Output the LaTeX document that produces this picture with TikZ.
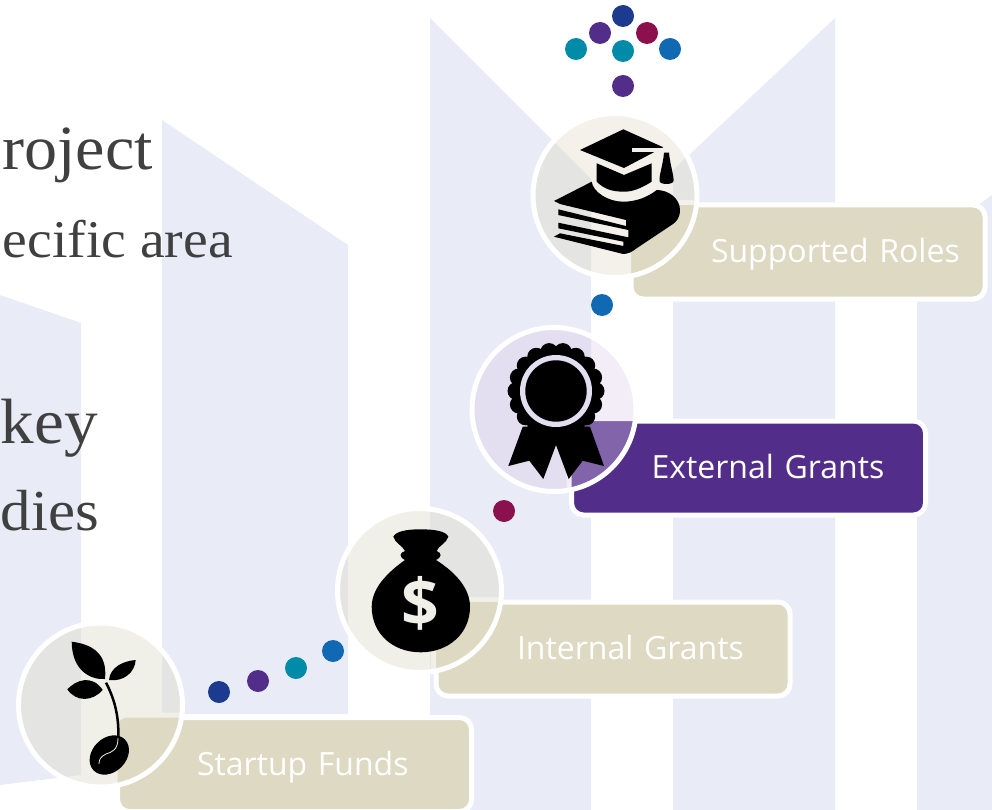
\documentclass[tikz,border=0pt]{standalone}
\usepackage{fontspec}
\setmainfont[FakeStretch=1.05]{Liberation Serif}
\newfontfamily\labelfont{Open Sans}
\usetikzlibrary{calc, shapes}

\definecolor{paleblue}{HTML}{E9ECF6}
\definecolor{boxtan}{HTML}{DDD9C3}
\definecolor{grape}{HTML}{522D8A}
\definecolor{navy}{HTML}{1C3A8E}
\definecolor{teal}{HTML}{008BA8}
\definecolor{azure}{HTML}{1269B3}
\definecolor{crimson}{HTML}{8A104E}
\definecolor{slate}{HTML}{404040}
\definecolor{paper}{HTML}{F1F0E8}
\definecolor{lilac}{HTML}{E3DFF1}

% the pale letter shapes behind everything
\newcommand{\backshapes}{
  \fill (0,295) -- (81,323) -- (81,775) -- (0,785) -- cycle;
  \fill (162,120) -- (348,245) -- (348,714) -- (162,714) -- cycle;
  \fill (430,18) -- (591,179) -- (591,810) -- (430,810) -- cycle;
  \fill (835,18) -- (673,170) -- (673,810) -- (835,810) -- cycle;
  \fill (992,195) -- (917,250) -- (917,810) -- (992,810) -- cycle;
}

\begin{document}
\begin{tikzpicture}[
    x = 1pt, y = -1pt,
    dot/.style = {circle, inner sep = 0pt, minimum size = 22pt},
    headtext/.style = {anchor = base east, inner sep = 0pt, text = slate},
    stepbox/.style = {draw = white, line width = 5pt, rounded corners = 12pt, inner sep = 0pt,
      minimum height = 94pt, text width = 354pt, text = white, align = left,
      text height = 26pt, text depth = 5pt, font = \labelfont\fontsize{32}{38}\selectfont},
    ring/.style = {circle, draw = white, line width = 5pt, inner sep = 0pt, minimum size = 164pt},
    icon/.style = {fill = black}
  ]
  \useasboundingbox (0,0) rectangle (992,810);
  \clip (0,0) rectangle (992,810);
  \begin{scope}[fill = paleblue]
    \backshapes
  \end{scope}

  % Headings
  \node[headtext, font = \fontsize{63}{70}\selectfont] (project) at (153,170) {roject};
  \node[headtext, font = \fontsize{53}{60}\selectfont] (area) at (233,258) {ecific area};
  \node[headtext, font = \fontsize{64}{70}\selectfont] (key) at (98,443) {key};
  \node[headtext, font = \fontsize{58}{60}\selectfont] (dies) at (99,530) {dies};

  % Boxes
  \node[stepbox, fill = boxtan] (startup) at (294.5,764.5) {\hspace*{79.5pt}Startup Funds};
  \node[stepbox, fill = boxtan] (internal) at (613,649) {\hspace*{81pt}Internal Grants};
  \node[stepbox, fill = grape] (external) at (748.5,468) {\hspace*{80pt}External Grants};
  \node[stepbox, fill = boxtan] (supported) at (808,252) {\hspace*{80pt}Supported Roles};

  % Tinted discs
  \foreach \cx/\cy/\boxname/\basecol/\shapecol/\boxcol in {
      100.5/705/startup/F1F0E8/E4E4E2/DDD9C3,
      419.5/590.5/internal/F1F0E8/E4E4E2/DDD9C3,
      554/409.5/external/F2EDF7/E3DFF1/8264AB,
      615/195.5/supported/F3F1EA/E4E4E2/DDD9C3} {
    \definecolor{basetint}{HTML}{\basecol}
    \definecolor{shapetint}{HTML}{\shapecol}
    \definecolor{boxtint}{HTML}{\boxcol}
    \begin{scope}
      \clip (\cx,\cy) circle (82);
      \fill[basetint] (\cx,\cy) circle (82);
      \begin{scope}[fill = shapetint]
        \backshapes
      \end{scope}
      \draw[basetint, fill = boxtint, line width = 5pt, rounded corners = 12pt]
        (\boxname.south west) rectangle (\boxname.north east);
    \end{scope}
  }
  \node[ring] (seedring) at (100.5,705) {};
  \node[ring] (bagring) at (419.5,590.5) {};
  \node[ring] (awardring) at (554,409.5) {};
  \node[ring] (capring) at (615,195.5) {};

  % Sprout
  \fill[icon] (71.7,641.7) .. controls (90,644) and (108,652) .. (105,679)
    .. controls (92,680) and (72,672) .. cycle;
  \fill[icon] (109,680) .. controls (110,668) and (122,661) .. (135.7,660)
    .. controls (135,672) and (124,682) .. cycle;
  \fill[icon] (67.3,689.3) .. controls (76,680) and (92,674) .. (102.7,690)
    .. controls (92,702) and (76,702) .. cycle;
  \draw[line width = 2.5pt] (106,682.7) .. controls (114,698) and (119,715) .. (118.3,737);
  \fill[icon, rotate around = {45:(109.3,755)}] (109.3,755) ellipse (22 and 17);
  \draw[paper, line width = 0.8pt] (118,738) .. controls (118,750) and (112,752) .. (106,754)
    .. controls (100,757) and (99,760) .. (99,764);

  % Money bag
  \fill[icon] (393.3,536.7) .. controls (396,531) and (408,529.3) .. (420,529.3)
    .. controls (434,529.3) and (446,531) .. (448.3,536.7)
    .. controls (447,543) and (438,546) .. (436.7,551)
    .. controls (442,553) and (442,557) .. (436,560)
    .. controls (455,572) and (470,588) .. (470,606.7)
    .. controls (470,634) and (448,652.3) .. (420.7,652.3)
    .. controls (393,652.3) and (371.7,634) .. (371.7,606.7)
    .. controls (371.7,588) and (388,572) .. (405,560)
    .. controls (399,557) and (399,553) .. (405,551)
    .. controls (403,546) and (395,543) .. cycle;
  \node[text = paper, inner sep = 0pt, font = \fontsize{66}{70}\selectfont\labelfont\bfseries] (dollar) at (420.7,603.3) {\$};

  % Award
  \fill[icon] (522.7,426.7) -- (508.3,466) -- (529.3,460.7) -- (543.3,479) -- (556,445)
    -- (568.7,479) -- (582.7,460.7) -- (604,466) -- (590,426.7) -- cycle;
  \foreach \a in {0,20,...,340}
    \fill[icon] ($(556,391)+(\a:39.5)$) circle (9);
  \fill[icon] (556,391) circle (41);
  \fill[lilac] (556,391) circle (36);
  \fill[icon] (556,391) circle (30.7);

  % Books and cap
  \fill[icon] (554,201) -- (591.7,181.7) .. controls (593,192) and (608,201.7) .. (623.3,201.7)
    .. controls (636,201.7) and (648,197) .. (656.7,190)
    .. controls (668,190) and (680,198) .. (680,210)
    .. controls (680,218) and (676,222) .. (673,224) -- (637,248)
    .. controls (632,252) and (628,254) .. (623,254) -- (554,236.7) -- (560,233.3)
    -- (623.3,246) -- (623.3,241.7) -- (558.3,228.3) -- (558.3,222.7) -- (628.3,237.3)
    -- (628.3,230) -- (558.3,215) -- (558.3,209.3) -- (626,226) -- (626,220) -- (560,204) -- cycle;
  \fill[icon] (580,150) -- (623.3,129.3) -- (663.3,147.3) -- (624,168) -- cycle;
  \fill[icon] (596.7,163.3) -- (624,175) -- (651.7,163.3) -- (651.7,181.7)
    .. controls (640,189) and (632,191.7) .. (624,191.7)
    .. controls (612,191.7) and (604,189) .. (596.7,181.7) -- cycle;
  \draw[paper, line width = 3.5pt] (632,150) -- (662,150);
  \fill[icon] (664,152.7) -- (669,152.7) .. controls (670,165) and (674,175) .. (673.5,181)
    .. controls (673,185) and (660,185) .. (659.5,181)
    .. controls (659,175) and (663,165) .. cycle;

  % Dots
  \foreach \px/\py/\col [count = \i] in {
      219/692/navy, 258/681/grape, 296/668/teal, 333/651/azure,
      504/511/crimson, 602/305/azure, 623/86/grape,
      623/16/navy, 600/33/grape, 647/33/crimson,
      576/49/teal, 623/51/teal, 670/49/azure} {
    \node[dot, fill = \col] (dot\i) at (\px,\py) {};
  }
\end{tikzpicture}
\end{document}
